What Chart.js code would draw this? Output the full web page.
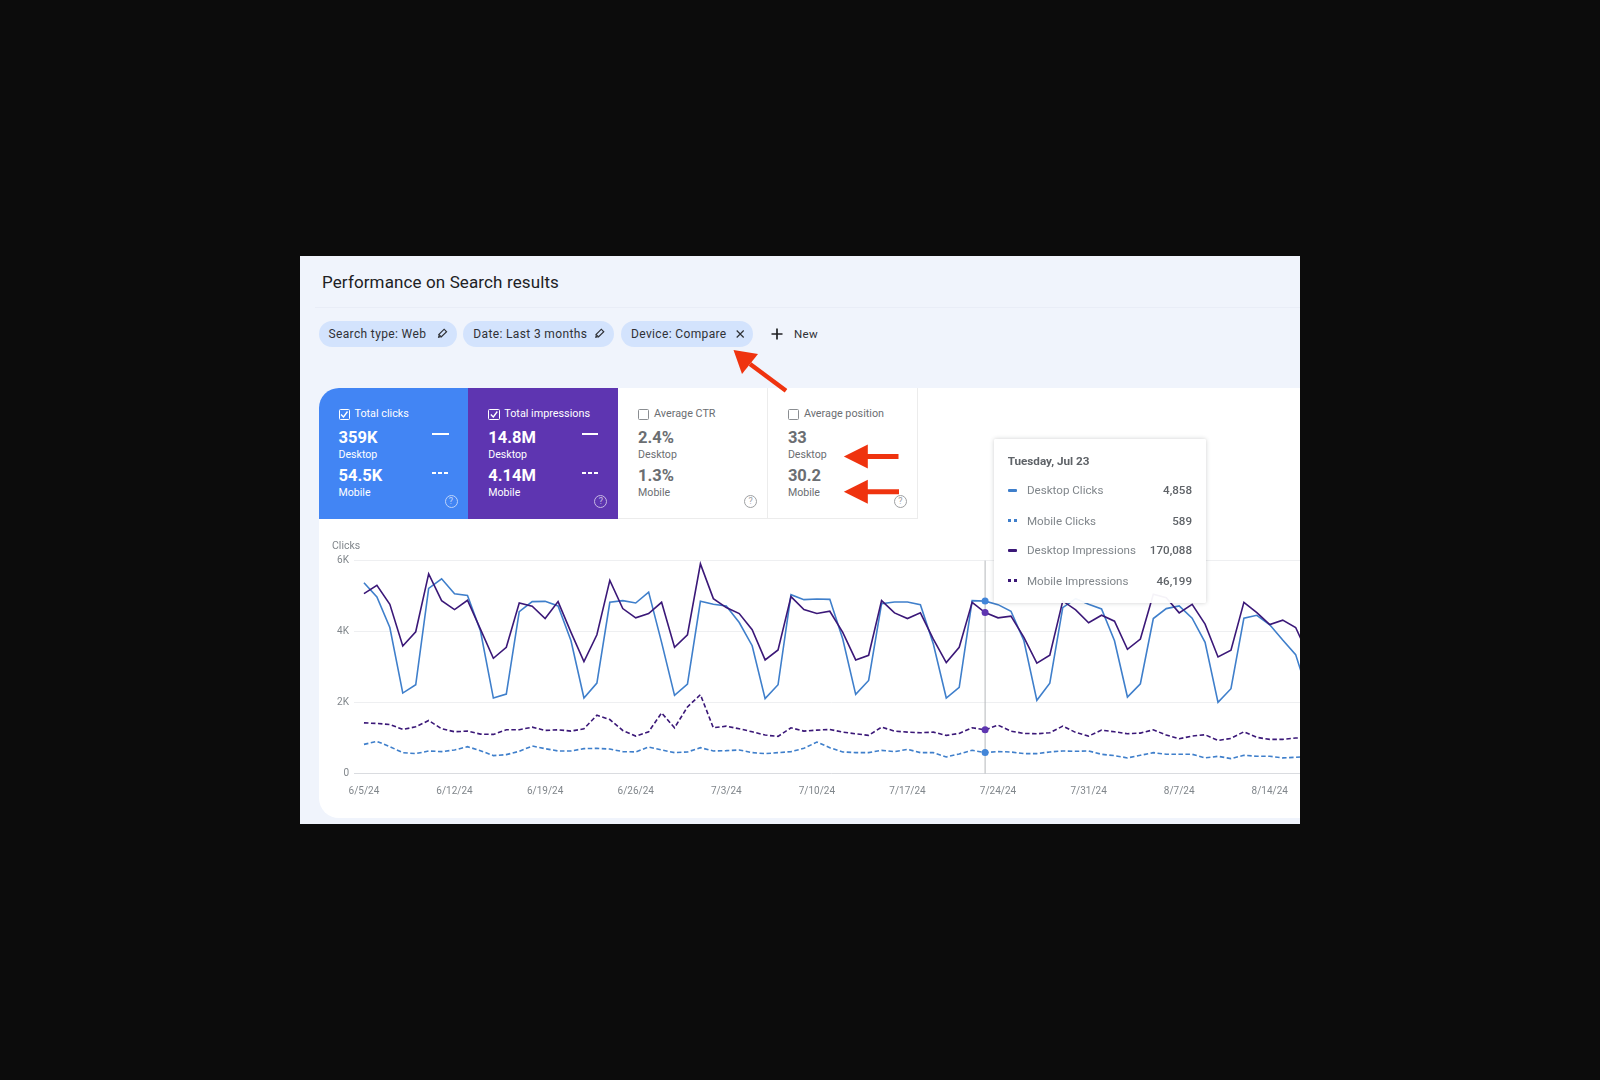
<!DOCTYPE html>
<html>
<head>
<meta charset="utf-8">
<script src="https://cdn.jsdelivr.net/npm/chart.js@4"></script>
<style>
  html, body { margin: 0; padding: 0; width: 1600px; height: 1080px; background: #0c0c0c; overflow: hidden; font-family: Roboto, sans-serif; }
  #shot { position: absolute; left: 300px; top: 256px; width: 1000px; height: 568px; background: #f0f4fc; overflow: hidden; }
  #shot div, #shot span { position: absolute; white-space: nowrap; }
  #title { left: 22px; top: 15px; font-size: 17px; line-height: 22px; color: #202124; letter-spacing: .12px; }
  #divider { left: 15px; right: 0; top: 51px; height: 1px; background: #e9edf7; }
  .chip { top: 65px; height: 26px; border-radius: 13px; background: #d3e3fd; }
  .chip span { left: 10px; top: 0; line-height: 26px; font-size: 12px; color: #2f3136; letter-spacing: .36px; }
  #white { left: 18.5px; top: 132px; width: 982px; height: 430px; background: #fff; border-radius: 20px 0 0 20px; }
  .card { top: 131.7px; width: 149.8px; height: 131px; box-sizing: border-box; border-right: 1px solid #ececec; border-bottom: 1px solid #ececec; color: #6b6e72; }
  .card.on { color: #fff; border: 0; }
  .card .box { left: 20px; top: 21.3px; width: 11.4px; height: 11.4px; box-sizing: border-box; border: 1.3px solid #8a8d91; border-radius: 1.5px; }
  .card.on .box { border-color: #fff; }
  .card .lab { left: 36px; top: 19.5px; font-size: 10.8px; line-height: 14px; }
  .card .val { left: 20px; font-size: 16.5px; font-weight: 700; line-height: 20px; }
  .card .dev { left: 20px; font-size: 10.6px; line-height: 14px; }
  .card .help { left: 126px; top: 107.5px; width: 13px; height: 13px; box-sizing: border-box; border: 1px solid currentColor; border-radius: 50%; font-size: 9px; line-height: 11px; text-align: center; opacity: .65; }
  .card .solid { left: 113.6px; top: 45.6px; width: 16.5px; height: 2px; background: #fff; }
  .card .dash { left: 113.6px; top: 84px; width: 16px; height: 2px; background: repeating-linear-gradient(90deg, #fff 0 4px, transparent 4px 6px); }
  #chartBox { left: 32px; top: 279px; width: 978px; height: 270px; }
  #tip { left: 694px; top: 183.3px; width: 212px; height: 163.4px; background: rgba(255,255,255,.95); box-shadow: 0 0 4px rgba(60,64,67,.25); border-radius: 2px; }
  #tip .head { left: 13.7px; top: 14.5px; font-size: 11.7px; line-height: 15px; font-weight: 700; color: #5f6368; }
  #tip .name { left: 33px; font-size: 11.6px; line-height: 16px; color: #80868b; }
  #tip .num { right: 14px; font-size: 11.6px; line-height: 16px; font-weight: 500; color: #5f6368; }
  #tip .mark { left: 13.7px; width: 9px; height: 3px; border-radius: 1px; }
  svg { position: absolute; left: 0; top: 0; z-index: 5; pointer-events: none; }
</style>
</head>
<body>
<div id="shot">
  <div id="title">Performance on Search results</div>
  <div id="divider"></div>
  <div id="white"></div>
  <div id="chartBox"><canvas id="perf" width="978" height="270"></canvas></div>
  <div id="tip"></div>
  <svg id="arrows" width="1000" height="568"></svg>
</div>
<script>
var days = 74;
var xTickDays = [0, 7, 14, 21, 28, 35, 42, 49, 56, 63, 70];
var xTickLabels = ['6/5/24', '6/12/24', '6/19/24', '6/26/24', '7/3/24', '7/10/24', '7/17/24', '7/24/24', '7/31/24', '8/7/24', '8/14/24'];
var yTicks = [0, 2000, 4000, 6000];
var yTickLabels = ['0', '2K', '4K', '6K'];

var desktopClicks = [5375, 4973, 4115, 2267, 2501, 5216, 5487, 5067, 5020, 4022, 2127, 2239, 4563, 4843, 4852, 4721, 3742, 2127, 2547, 4824, 4871, 4805, 5113, 3695, 2202, 2519, 4852, 4768, 4721, 4255, 3602, 2109, 2501, 5039, 4899, 4917, 4908, 3788, 2230, 2622, 4787, 4833, 4833, 4759, 3648, 2127, 2426, 4871, 4858, 4759, 4572, 3742, 2062, 2547, 4675, 4927, 4768, 4637, 3742, 2155, 2529, 4367, 4647, 4721, 4376, 3695, 2006, 2389, 4376, 4460, 4190, 3760, 3350, 2202];
var mobileClicks = [821, 905, 756, 588, 560, 635, 616, 663, 756, 644, 504, 532, 625, 774, 700, 635, 635, 700, 709, 690, 616, 607, 746, 663, 588, 607, 728, 635, 644, 663, 588, 560, 588, 616, 709, 886, 728, 607, 588, 588, 653, 616, 681, 588, 588, 467, 551, 653, 589, 616, 607, 560, 560, 607, 635, 625, 635, 541, 504, 439, 513, 588, 541, 541, 541, 439, 485, 420, 513, 485, 485, 439, 457, 476];
var desktopImpressions = [190050, 198800, 178850, 134750, 149800, 211050, 182700, 173250, 183050, 152600, 121800, 133350, 180250, 176750, 163800, 181650, 149100, 118300, 146650, 204050, 174300, 164500, 169050, 180950, 133350, 146650, 221550, 184800, 175350, 169050, 151900, 120050, 130550, 186900, 173250, 169050, 171500, 149100, 120050, 124950, 182700, 169750, 163800, 169750, 142100, 117250, 133350, 180950, 170088, 164500, 166250, 143850, 116550, 124950, 182350, 172900, 159250, 167300, 161000, 131250, 142100, 189350, 185850, 169750, 178850, 157850, 123200, 130200, 180950, 170100, 157500, 162050, 154350, 124600];
var mobileImpressions = [53550, 52850, 51800, 46550, 49350, 56000, 47250, 44100, 44800, 41650, 41300, 46200, 46200, 49000, 45500, 46200, 44800, 47250, 61600, 57050, 45500, 39550, 44100, 64050, 48300, 70350, 83300, 48300, 50050, 47250, 44100, 40600, 39200, 48300, 44800, 45850, 46550, 43750, 42000, 40250, 49000, 44800, 43750, 43050, 43750, 40250, 42350, 48300, 46199, 51100, 44800, 42350, 42000, 43050, 50050, 43400, 39550, 45850, 44100, 42000, 42700, 46200, 40600, 36750, 39550, 40950, 35000, 37100, 44100, 38150, 36050, 36050, 37450, 37800];

var hoverDay = 48;
var tipTitle = 'Tuesday, Jul 23';
var tipNames = ['Desktop Clicks', 'Mobile Clicks', 'Desktop Impressions', 'Mobile Impressions'];
var tipValues = ['4,858', '589', '170,088', '46,199'];

var chipLabels = ['Search type: Web', 'Date: Last 3 months', 'Device: Compare'];
var cardTitles = ['Total clicks', 'Total impressions', 'Average CTR', 'Average position'];
var cardDesktop = ['359K', '14.8M', '2.4%', '33'];
var cardMobile = ['54.5K', '4.14M', '1.3%', '30.2'];

var blue = '#3f7fcb';
var purple = '#3b1878';

function points(values) {
  var out = [];
  for (var i = 0; i < values.length; i++) {
    out.push({x: i, y: values[i]});
  }
  return out;
}

function line(label, values, color, dark, axis, dashed) {
  return {
    label: label,
    data: points(values),
    yAxisID: axis,
    borderColor: color,
    borderWidth: 1.6,
    borderDash: dashed ? [4.5, 2.5] : [],
    tension: 0,
    pointRadius: function (c) { return c.dataIndex === hoverDay ? 3.5 : 0; },
    pointBackgroundColor: dark,
    pointBorderWidth: 0
  };
}

// vertical hover line
var hoverLine = {
  id: 'hoverLine',
  beforeDatasetsDraw: function (c) {
    var x = c.scales.x.getPixelForValue(hoverDay);
    c.ctx.save();
    c.ctx.strokeStyle = '#b4b7bb';
    c.ctx.lineWidth = 1;
    c.ctx.beginPath();
    c.ctx.moveTo(x, c.chartArea.top);
    c.ctx.lineTo(x, c.chartArea.bottom);
    c.ctx.stroke();
    c.ctx.restore();
  }
};

new Chart(document.getElementById('perf'), {
  type: 'line',
  data: {
    datasets: [
      line(tipNames[2], desktopImpressions, purple, '#5e35b1', 'y1', false),
      line(tipNames[0], desktopClicks, blue, '#4285d8', 'y', false),
      line(tipNames[3], mobileImpressions, purple, '#5e35b1', 'y1', true),
      line(tipNames[1], mobileClicks, blue, '#4285d8', 'y', true)
    ]
  },
  options: {
    responsive: false,
    animation: false,
    layout: {padding: {right: 1.4, left: 0, top: 0, bottom: 0}},
    plugins: {
      legend: {display: false},
      tooltip: {enabled: false},
      title: {
        display: true,
        text: 'Clicks',
        align: 'start',
        color: '#80868b',
        font: {family: 'Roboto', size: 10.5, weight: 'normal'},
        padding: {top: 5, bottom: 8}
      }
    },
    scales: {
      x: {
        type: 'linear',
        min: -0.77,
        max: days - 1,
        grid: {display: false},
        border: {color: '#dadce0', width: 1},
        afterBuildTicks: function (s) {
          s.ticks = xTickDays.map(function (d) { return {value: d}; });
        },
        afterFit: function (s) { s.height = 31.5; s.paddingLeft = 0; s.paddingRight = 0; },
        ticks: {
          autoSkip: false,
          maxRotation: 0,
          padding: 4,
          color: '#80868b',
          font: {family: 'Roboto', size: 10},
          callback: function (v) { return xTickLabels[xTickDays.indexOf(v)]; }
        }
      },
      y: {
        min: 0,
        max: 6000,
        afterBuildTicks: function (s) {
          s.ticks = yTicks.map(function (v) { return {value: v}; });
        },
        afterFit: function (s) { s.width = 22; },
        grid: {color: '#eeeff1', drawTicks: false},
        border: {display: false},
        ticks: {
          padding: 5,
          color: '#80868b',
          font: {family: 'Roboto', size: 10},
          callback: function (v) { return yTickLabels[yTicks.indexOf(v)]; }
        }
      },
      y1: {min: 0, max: 225000, display: false}
    }
  },
  plugins: [hoverLine]
});

// page furniture round the chart
var shot = document.getElementById('shot');

function add(parent, cls, style, text) {
  var d = document.createElement('div');
  d.className = cls;
  d.style.cssText = style;
  if (text) d.textContent = text;
  parent.appendChild(d);
  return d;
}

var chipLeft = [18.5, 163.3, 321];
var chipWidth = [138, 150.7, 132.3];
for (var i = 0; i < chipLabels.length; i++) {
  var chip = add(shot, 'chip', 'left:' + chipLeft[i] + 'px;width:' + chipWidth[i] + 'px');
  var sp = document.createElement('span');
  sp.textContent = chipLabels[i];
  chip.appendChild(sp);
}
add(shot, '', 'left:494px;top:65px;font-size:11.5px;line-height:26px;letter-spacing:.3px;color:#2f3136', 'New');

var cardBg = ['#4285f4', '#5e35b1', '#fff', '#fff'];
var svgIcons = '';
for (var c = 0; c < cardTitles.length; c++) {
  var on = c < 2;
  var left = 18.5 + c * 149.8;
  var card = add(shot, on ? 'card on' : 'card', 'left:' + left + 'px;background:' + cardBg[c] + (c == 0 ? ';border-radius:20px 0 0 0' : ''));
  add(card, 'box', '');
  add(card, 'lab', '', cardTitles[c]);
  add(card, 'val', 'top:40.5px', cardDesktop[c]);
  add(card, 'dev', 'top:60px', 'Desktop');
  add(card, 'val', 'top:78.5px', cardMobile[c]);
  add(card, 'dev', 'top:98.5px', 'Mobile');
  add(card, 'help', '', '?');
  if (on) {
    add(card, 'solid', '');
    add(card, 'dash', '');
    var bx = left + 20;
    svgIcons += '<polyline fill="none" stroke="#fff" stroke-width="1.3" points="' + (bx + 2.5) + ',158.5 ' + (bx + 5) + ',161 ' + (bx + 9) + ',155.5"/>';
  }
}

// tooltip
var tip = document.getElementById('tip');
var rowMid = [51, 81.4, 111, 141.4];
var rowColor = [blue, blue, purple, purple];
add(tip, 'head', '', tipTitle);
for (var r = 0; r < tipNames.length; r++) {
  add(tip, 'name', 'top:' + (rowMid[r] - 8) + 'px', tipNames[r]);
  add(tip, 'num', 'top:' + (rowMid[r] - 8) + 'px', tipValues[r]);
  if (r % 2 == 0) {
    add(tip, 'mark', 'top:' + (rowMid[r] - 1.5) + 'px;background:' + rowColor[r]);
  } else {
    add(tip, 'mark', 'top:' + (rowMid[r] - 1.5) + 'px;border-radius:0;background:repeating-linear-gradient(90deg,' + rowColor[r] + ' 0 3px,transparent 3px 6px)');
  }
}

function pencil(x, y) {
  return '<g transform="translate(' + x + ' ' + y + ') rotate(45)"><rect x="-1.7" y="-5" width="3.4" height="7.5" fill="none" stroke="#2f3136" stroke-width="1.2"/><polygon points="-1.7,3 1.7,3 0,5.5" fill="#2f3136"/></g>';
}

// chip icons, plus sign and red call-out arrows
document.getElementById('arrows').innerHTML =
  svgIcons +
  pencil(141.8, 78) + pencil(299, 78) +
  '<path d="M436.7 74.5 L443.7 81.5 M443.7 74.5 L436.7 81.5" stroke="#2f3136" stroke-width="1.2" fill="none"/>' +
  '<path d="M477 72.5 V83.5 M471.5 78 H482.5" stroke="#202124" stroke-width="1.7" fill="none"/>' +
  '<g fill="#ef330f" stroke="#ef330f">' +
  '<line x1="486" y1="134.7" x2="450" y2="108" stroke-width="4.5"/><polygon stroke="none" points="433.5,94 458,98 442,118"/>' +
  '<line x1="598.5" y1="200.5" x2="565" y2="200.5" stroke-width="5"/><polygon stroke="none" points="543.8,200.5 567.8,188.5 567.8,212.5"/>' +
  '<line x1="599" y1="235.7" x2="565" y2="235.7" stroke-width="5"/><polygon stroke="none" points="543.8,235.7 567.8,223.7 567.8,247.7"/>' +
  '</g>';
</script>
</body>
</html>
